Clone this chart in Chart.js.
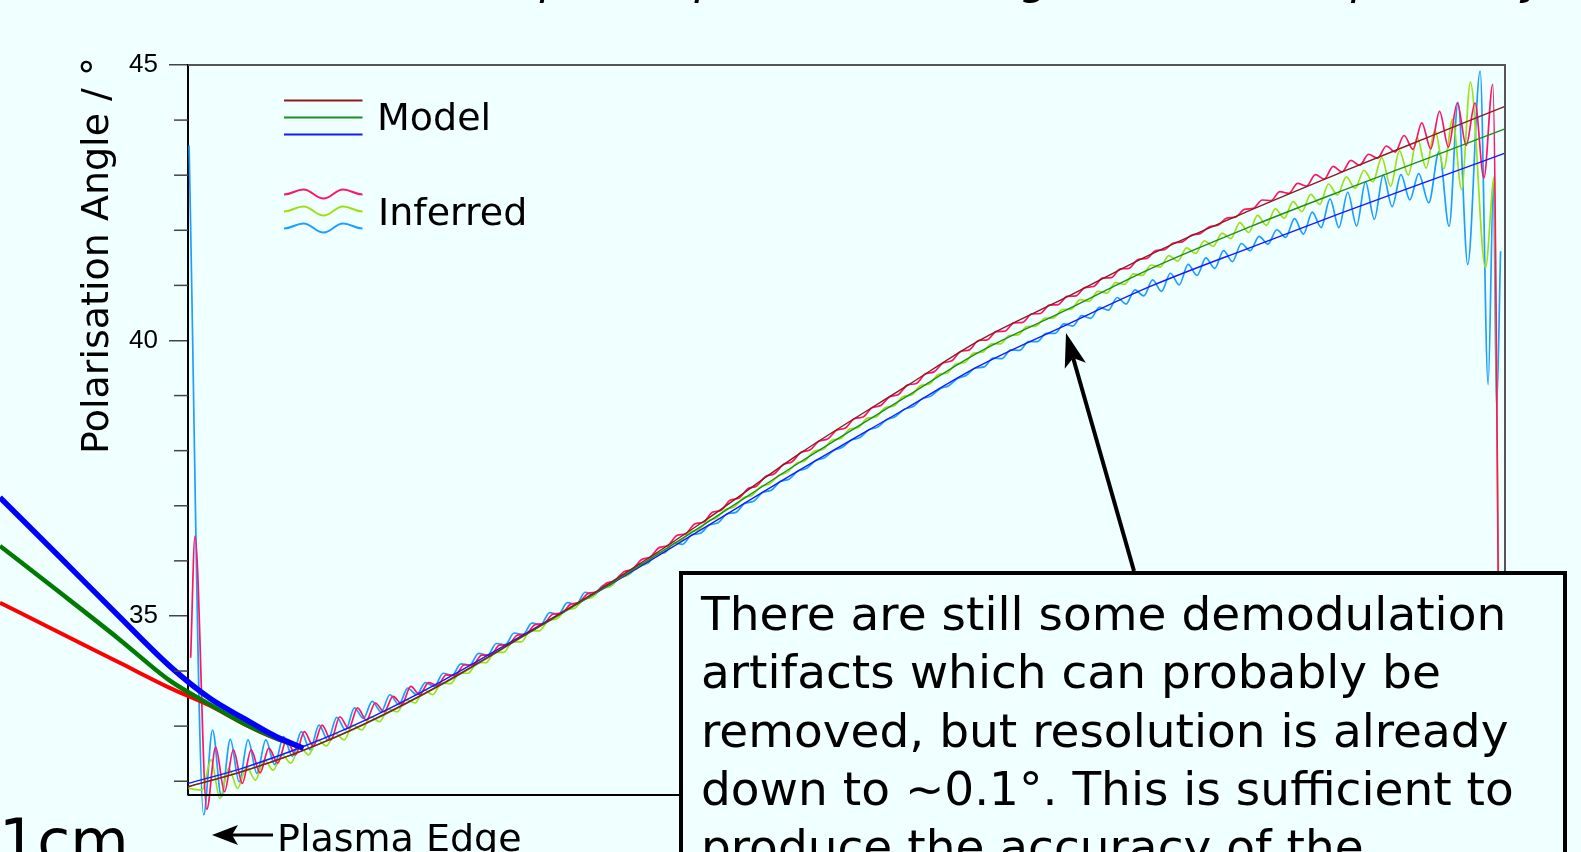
<!DOCTYPE html>
<html>
<head>
<meta charset="utf-8">
<script src="https://cdn.jsdelivr.net/npm/chart.js@4.4.1/dist/chart.umd.min.js"></script>
<style>
  html, body { margin: 0; padding: 0; background: #f0ffff; overflow: hidden; }
  canvas { display: block; }
</style>
</head>
<body>
<canvas id="angleChart" width="1581" height="852"></canvas>
<script>
// y axis: labelled ticks every 5 degrees, short ticks every degree
const majorTicks = [35, 40, 45];
const minorTicks = [32, 33, 34, 36, 37, 38, 39, 41, 42, 43, 44];
const channelRange = [0, 148.5];

// model polarisation angle, sampled along the channel axis
const modelX = [0, 6, 13, 20, 29, 37.5, 47.5, 58, 69, 81, 89, 99, 108.5, 120, 130, 140, 148.5];
const modelRed = [31.90, 32.17, 32.56, 33.05, 33.80, 34.61, 35.59, 36.70, 37.95, 39.17, 39.98, 40.78, 41.56, 42.38, 43.05, 43.70, 44.25];
const modelGreen = [31.90, 32.17, 32.56, 33.04, 33.79, 34.60, 35.57, 36.64, 37.79, 38.98, 39.77, 40.55, 41.30, 42.08, 42.71, 43.32, 43.84];
const modelBlue = [31.96, 32.23, 32.63, 33.11, 33.85, 34.63, 35.56, 36.58, 37.65, 38.77, 39.52, 40.28, 40.98, 41.70, 42.31, 42.90, 43.40];

// inferred angle: ripple extrema one channel apart, plus the irregular ends
const pinkHead = [[0.30, 34.24], [0.79, 36.45]];
const pinkStart = 2.12;
const pinkRipple = [
  31.49, 32.62, 31.81, 32.57, 31.96, 32.57, 32.15, 32.60, 32.33, 32.75,
  32.48, 32.90, 32.64, 33.02, 32.75, 33.17, 32.96, 33.33, 33.11, 33.42,
  33.26, 33.54, 33.40, 33.72, 33.57, 33.79, 33.74, 33.93, 33.92, 34.11,
  34.11, 34.29, 34.29, 34.47, 34.48, 34.65, 34.67, 34.84, 34.86, 35.03,
  35.05, 35.21, 35.25, 35.41, 35.44, 35.59, 35.64, 35.80, 35.85, 36.02,
  36.07, 36.24, 36.28, 36.46, 36.49, 36.67, 36.70, 36.88, 36.92, 37.10,
  37.14, 37.31, 37.36, 37.53, 37.58, 37.75, 37.80, 37.97, 38.01, 38.17,
  38.21, 38.37, 38.41, 38.58, 38.61, 38.78, 38.82, 38.98, 39.02, 39.19,
  39.22, 39.39, 39.43, 39.59, 39.63, 39.80, 39.83, 40.00, 40.01, 40.16,
  40.17, 40.32, 40.33, 40.48, 40.49, 40.64, 40.65, 40.80, 40.81, 40.96,
  40.98, 41.13, 41.14, 41.30, 41.31, 41.47, 41.49, 41.63, 41.65, 41.77,
  41.79, 41.91, 41.94, 42.06, 42.09, 42.22, 42.24, 42.38, 42.40, 42.55,
  42.54, 42.70, 42.67, 42.85, 42.80, 43.01, 42.93, 43.16, 43.06, 43.27,
  43.18, 43.38, 43.31, 43.53, 43.42, 43.72, 43.47, 43.95, 43.48, 44.16,
  43.51, 44.31, 43.54, 44.31, 42.95, 44.65
];
const pinkTail = [[147.95, 31.6]];

const limeHead = [[0.05, 31.87]];
const limeStart = 1.6;
const limeRipple = [
  31.84, 32.39, 31.69, 32.24, 31.87, 32.26, 32.02, 32.39, 32.20, 32.48,
  32.33, 32.63, 32.48, 32.75, 32.64, 32.87, 32.75, 33.02, 32.93, 33.17,
  33.08, 33.31, 33.26, 33.48, 33.42, 33.66, 33.57, 33.78, 33.77, 33.96,
  33.96, 34.15, 34.15, 34.34, 34.34, 34.53, 34.53, 34.73, 34.73, 34.91,
  34.95, 35.11, 35.14, 35.30, 35.34, 35.50, 35.53, 35.69, 35.74, 35.90,
  35.94, 36.11, 36.15, 36.31, 36.37, 36.52, 36.57, 36.72, 36.78, 36.93,
  36.98, 37.14, 37.19, 37.35, 37.40, 37.55, 37.61, 37.77, 37.82, 37.99,
  38.02, 38.19, 38.22, 38.39, 38.42, 38.59, 38.61, 38.78, 38.81, 38.98,
  39.01, 39.18, 39.21, 39.38, 39.41, 39.57, 39.60, 39.77, 39.79, 39.94,
  39.94, 40.09, 40.10, 40.25, 40.26, 40.40, 40.41, 40.56, 40.57, 40.74,
  40.71, 40.89, 40.86, 41.05, 41.02, 41.21, 41.18, 41.37, 41.33, 41.54,
  41.44, 41.68, 41.58, 41.81, 41.71, 41.95, 41.85, 42.14, 41.96, 42.27,
  42.09, 42.39, 42.22, 42.52, 42.34, 42.65, 42.47, 42.84, 42.64, 42.97,
  42.76, 43.09, 42.88, 43.32, 42.80, 43.44, 43.00, 43.68, 43.13, 43.82,
  43.12, 44.02, 42.74, 44.69
];
const limeTail = [[146.3, 41.32], [147.3, 42.98], [147.95, 31.6]];

const skyHead = [[0.12, 43.54]];
const skyStart = 1.77;
const skyRipple = [
  31.39, 32.93, 31.72, 32.76, 31.99, 32.75, 32.14, 32.75, 32.30, 32.81,
  32.45, 32.90, 32.57, 33.02, 32.75, 33.16, 32.93, 33.33, 33.14, 33.45,
  33.26, 33.57, 33.39, 33.69, 33.57, 33.79, 33.72, 33.96, 33.92, 34.13,
  34.11, 34.32, 34.29, 34.50, 34.48, 34.69, 34.66, 34.87, 34.84, 35.06,
  35.03, 35.24, 35.21, 35.43, 35.38, 35.55, 35.56, 35.74, 35.76, 35.94,
  35.95, 36.13, 36.15, 36.33, 36.30, 36.47, 36.50, 36.65, 36.69, 36.85,
  36.88, 37.04, 37.08, 37.24, 37.28, 37.44, 37.48, 37.63, 37.68, 37.82,
  37.87, 38.00, 38.06, 38.19, 38.24, 38.38, 38.43, 38.56, 38.62, 38.75,
  38.80, 38.94, 38.99, 39.12, 39.18, 39.31, 39.37, 39.50, 39.52, 39.68,
  39.67, 39.83, 39.82, 39.98, 39.98, 40.13, 40.13, 40.30, 40.26, 40.45,
  40.40, 40.60, 40.55, 40.78, 40.66, 40.92, 40.81, 41.10, 40.89, 41.22,
  41.01, 41.38, 41.18, 41.50, 41.31, 41.63, 41.43, 41.76, 41.63, 41.89,
  41.75, 42.01, 41.87, 42.21, 41.93, 42.33, 42.05, 42.57, 42.05, 42.69,
  42.08, 42.88, 42.20, 43.00, 42.43, 43.01, 42.55, 43.03
];
const skyTail = [[139.9, 42.50], [141.07, 43.43], [142.2, 42.07], [143.2, 44.32], [144.3, 41.38],
  [145.7, 44.89], [146.6, 39.2], [147.2, 42.86], [147.55, 38.77], [148.0, 41.62]];

// profiles from the outer region, running in to the plasma edge
const edgeX = [-21.2, -14.4, -7.7, -2.0, 2.5, 6.4, 9.8, 13.0];
const edgeRed = [35.24, 34.69, 34.15, 33.69, 33.37, 33.03, 32.78, 32.60];
const edgeGreen = [36.27, 35.42, 34.57, 33.82, 33.39, 33.04, 32.79, 32.60];
const edgeBlue = [37.15, 36.06, 34.98, 34.08, 33.50, 33.13, 32.82, 32.60];

const noteLines = [
  'There are still some demodulation',
  'artifacts which can probably be',
  'removed, but resolution is already',
  'down to ~0.1°. This is sufficient to',
  'produce the accuracy of the'
];

const COLORS = {
  modelRed: '#8c1c1c', modelGreen: '#1e8c1e', modelBlue: '#1818ff',
  pink: '#ff1466', lime: '#9fe014', sky: '#1e9eff',
  edgeRed: '#ff0000', edgeGreen: '#007a00', edgeBlue: '#0000ff'
};
const SANS = '"DejaVu Sans", sans-serif';

function pairs(xs, ys) {
  return ys.map((y, i) => ({ x: xs[i], y: y }));
}

function ripple(head, start, values, tail) {
  const pts = head.map(p => ({ x: p[0], y: p[1] }));
  values.forEach((v, i) => pts.push({ x: start + i, y: v }));
  tail.forEach(p => pts.push({ x: p[0], y: p[1] }));
  return pts;
}

function line(data, color, width) {
  return {
    data: data,
    borderColor: color,
    borderWidth: width,
    pointRadius: 0,
    fill: false,
    cubicInterpolationMode: 'monotone',
    capBezierPoints: false,
    clip: false
  };
}

function arrow(ctx, fromX, fromY, tipX, tipY, shaft, len, half, notch) {
  const dx = tipX - fromX, dy = tipY - fromY;
  const d = Math.hypot(dx, dy);
  const ux = dx / d, uy = dy / d;
  const nx = -uy, ny = ux;
  const bx = tipX - ux * len, by = tipY - uy * len;
  ctx.lineWidth = shaft;
  ctx.beginPath();
  ctx.moveTo(fromX, fromY);
  ctx.lineTo(tipX - ux * (len - notch), tipY - uy * (len - notch));
  ctx.stroke();
  ctx.beginPath();
  ctx.moveTo(tipX, tipY);
  ctx.lineTo(bx + nx * half, by + ny * half);
  ctx.lineTo(tipX - ux * (len - notch), tipY - uy * (len - notch));
  ctx.lineTo(bx - nx * half, by - ny * half);
  ctx.closePath();
  ctx.fill();
}

function wave(ctx, y0) {
  const pts = [[284, y0 + 0.5], [303.5, y0 - 4.5], [323.5, y0 + 4.5], [343, y0 - 4.5], [362.5, y0 + 0.5]];
  ctx.beginPath();
  ctx.moveTo(pts[0][0], pts[0][1]);
  for (let i = 1; i < pts.length; i++) {
    const a = pts[i - 1], b = pts[i];
    const k = (b[0] - a[0]) * 0.4;
    ctx.bezierCurveTo(a[0] + k, a[1], b[0] - k, b[1], b[0], b[1]);
  }
  ctx.stroke();
}

const decorations = {
  id: 'decorations',
  afterDraw(chart) {
    const ctx = chart.ctx;
    const area = chart.chartArea;
    const yScale = chart.scales.y;
    ctx.save();

    // frame round the plot
    ctx.lineWidth = 2;
    ctx.strokeStyle = '#555';
    ctx.beginPath();
    ctx.moveTo(area.left, area.top);
    ctx.lineTo(area.right, area.top);
    ctx.lineTo(area.right, area.bottom);
    ctx.stroke();
    ctx.strokeStyle = '#000';
    ctx.beginPath();
    ctx.moveTo(area.left, area.bottom);
    ctx.lineTo(area.right, area.bottom);
    ctx.stroke();

    // short unlabelled ticks
    ctx.strokeStyle = '#444';
    ctx.lineWidth = 1.5;
    minorTicks.forEach(v => {
      const py = yScale.getPixelForValue(v);
      ctx.beginPath();
      ctx.moveTo(area.left - 14, py);
      ctx.lineTo(area.left, py);
      ctx.stroke();
    });

    ctx.fillStyle = '#000';
    ctx.textBaseline = 'alphabetic';

    // heading, only its descenders reach below the top edge
    ctx.font = 'italic 44px ' + SANS;
    ctx.textAlign = 'left';
    ctx.fillText('The demodulated profile polarisation angle is now compared by eye', 138, -6);

    // y axis title
    ctx.save();
    ctx.translate(108, 57);
    ctx.rotate(-Math.PI / 2);
    ctx.font = '38px ' + SANS;
    ctx.textAlign = 'right';
    ctx.fillText('Polarisation Angle / °', 0, 0);
    ctx.restore();

    // legend
    ctx.lineWidth = 2;
    [[COLORS.modelRed, 100.5], [COLORS.modelGreen, 117.5], [COLORS.modelBlue, 134.5]].forEach(([c, y]) => {
      ctx.strokeStyle = c;
      ctx.beginPath();
      ctx.moveTo(284, y);
      ctx.lineTo(362.5, y);
      ctx.stroke();
    });
    [[COLORS.pink, 194], [COLORS.lime, 211], [COLORS.sky, 228]].forEach(([c, y]) => {
      ctx.strokeStyle = c;
      wave(ctx, y);
    });
    ctx.font = '38px ' + SANS;
    ctx.fillText('Model', 377, 130);
    ctx.fillText('Inferred', 378, 225);

    // plasma edge marker and scale label
    ctx.strokeStyle = '#000';
    arrow(ctx, 273, 835, 212, 835, 3, 26, 10, 6);
    ctx.font = '38px ' + SANS;
    ctx.fillText('Plasma Edge', 277, 851);
    ctx.font = '60px ' + SANS;
    ctx.fillText('1cm', -1, 862);

    // note box with its pointer
    ctx.fillStyle = '#f0ffff';
    ctx.fillRect(681, 573, 884, 320);
    ctx.strokeStyle = '#000';
    ctx.lineWidth = 4;
    ctx.strokeRect(681, 573, 884, 320);
    ctx.fillStyle = '#000';
    ctx.font = '47px ' + SANS;
    noteLines.forEach((t, i) => ctx.fillText(t, 701, 630 + i * 58.3));
    arrow(ctx, 1134, 571, 1066, 333, 4, 34, 11, 8);

    ctx.restore();
  }
};

new Chart(document.getElementById('angleChart'), {
  type: 'line',
  data: {
    datasets: [
      line(pairs(edgeX, edgeBlue), COLORS.edgeBlue, 5.5),
      line(pairs(edgeX, edgeGreen), COLORS.edgeGreen, 4.5),
      line(pairs(edgeX, edgeRed), COLORS.edgeRed, 4),
      line(pairs(modelX, modelRed), COLORS.modelRed, 1.4),
      line(pairs(modelX, modelGreen), COLORS.modelGreen, 1.4),
      line(pairs(modelX, modelBlue), COLORS.modelBlue, 1.4),
      line(ripple(pinkHead, pinkStart, pinkRipple, pinkTail), COLORS.pink, 1.7),
      line(ripple(limeHead, limeStart, limeRipple, limeTail), COLORS.lime, 1.7),
      line(ripple(skyHead, skyStart, skyRipple, skyTail), COLORS.sky, 1.7)
    ]
  },
  options: {
    responsive: false,
    animation: false,
    devicePixelRatio: 1,
    layout: { padding: { left: 128, top: 65, right: 76, bottom: 57 } },
    plugins: { legend: { display: false }, tooltip: { enabled: false } },
    scales: {
      x: {
        type: 'linear',
        display: false,
        bounds: 'data',
        afterDataLimits(scale) {
          scale.min = channelRange[0];
          scale.max = channelRange[1];
        }
      },
      y: {
        type: 'linear',
        min: 31.75,
        max: 45,
        bounds: 'data',
        afterBuildTicks(scale) {
          scale.ticks = majorTicks.map(v => ({ value: v }));
        },
        afterFit(scale) {
          scale.width = 60;
          scale.paddingTop = 0;
          scale.paddingBottom = 0;
        },
        ticks: {
          color: '#000',
          padding: 11,
          font: { family: '"Liberation Sans", Arial, sans-serif', size: 26 },
          callback: v => String(v)
        },
        grid: { drawOnChartArea: false, tickLength: 19, color: '#444', lineWidth: 1.5 },
        border: { color: '#000', width: 2 }
      }
    }
  },
  plugins: [decorations]
});
</script>
</body>
</html>
